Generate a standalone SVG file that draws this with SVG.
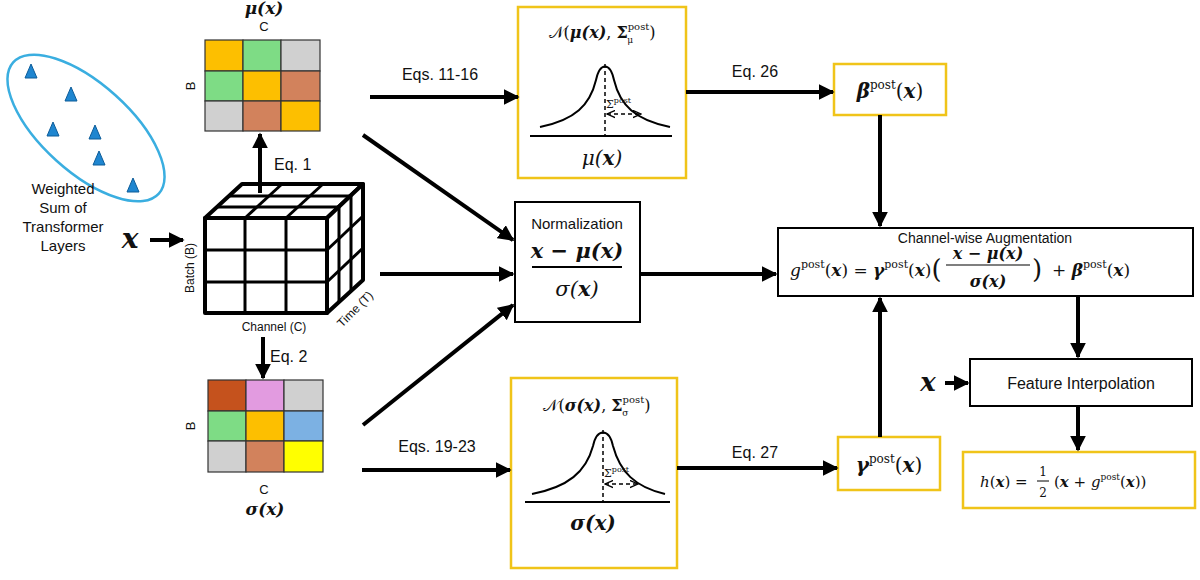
<svg xmlns="http://www.w3.org/2000/svg" width="1200" height="580" viewBox="0 0 1200 580">
<defs>
<marker id="ah" viewBox="0 0 10 10" refX="9" refY="5" markerWidth="4" markerHeight="4" orient="auto"><path d="M0,0 L10,5 L0,10 z" fill="#000"/></marker>
<marker id="sa" viewBox="0 0 10 10" refX="9" refY="5" markerWidth="6" markerHeight="6" orient="auto-start-reverse"><path d="M0,1 L9,5 L0,9" fill="none" stroke="#000" stroke-width="1.5"/></marker>
</defs>
<style>
.s{font-family:"Liberation Sans",Arial,sans-serif;fill:#111}
.m{font-family:"DejaVu Serif","Liberation Serif",serif;fill:#111}
.mb{font-family:"DejaVu Serif","Liberation Serif",serif;font-style:italic;font-weight:bold;fill:#111}
.c{stroke:#000;stroke-width:4;fill:none;marker-end:url(#ah)}
.gold{fill:#fff;stroke:#f0c419;stroke-width:2.5}
.blk{fill:#fff;stroke:#000;stroke-width:2}
.g{stroke:#333;stroke-width:1.2}
.cube{fill:#fff;stroke:#000;stroke-width:4;stroke-linejoin:round}
.tri{fill:#1f86d0;stroke:#0d5c99;stroke-width:1}
</style>
<rect width="1200" height="580" fill="#fff"/>

<g id="source">
<ellipse cx="86" cy="128" rx="98" ry="44" transform="rotate(42 86 128)" fill="none" stroke="#3aaee0" stroke-width="2.5"/>
<polygon class="tri" points="31,64 25,78 37,78"/>
<polygon class="tri" points="71,87 65,101 77,101"/>
<polygon class="tri" points="53,122 47,136 59,136"/>
<polygon class="tri" points="95,125 89,139 101,139"/>
<polygon class="tri" points="99,151 93,165 105,165"/>
<polygon class="tri" points="133,178 127,192 139,192"/>
<text class="s" font-size="15" text-anchor="middle"><tspan x="63" y="194">Weighted</tspan><tspan x="63" y="213">Sum of</tspan><tspan x="63" y="232">Transformer</tspan><tspan x="63" y="251">Layers</tspan></text>
<text class="mb" x="130" y="248" font-size="28" text-anchor="middle">x</text>
</g>

<g id="mu-grid">
<text class="mb" x="264" y="14" font-size="17" text-anchor="middle">μ(x)</text>
<text class="s" x="264" y="31" font-size="13" text-anchor="middle">C</text>
<text class="s" x="195" y="86" font-size="13" text-anchor="middle" transform="rotate(-90 195 86)">B</text>
<rect x="205" y="40" width="38" height="31" fill="#fdbf00" class="g"/>
<rect x="243" y="40" width="38" height="31" fill="#7edc85" class="g"/>
<rect x="281" y="40" width="39" height="31" fill="#d0d0d0" class="g"/>
<rect x="205" y="71" width="38" height="30" fill="#7edc85" class="g"/>
<rect x="243" y="71" width="38" height="30" fill="#fdbf00" class="g"/>
<rect x="281" y="71" width="39" height="30" fill="#d2825c" class="g"/>
<rect x="205" y="101" width="38" height="30" fill="#d0d0d0" class="g"/>
<rect x="243" y="101" width="38" height="30" fill="#d2825c" class="g"/>
<rect x="281" y="101" width="39" height="30" fill="#fdbf00" class="g"/>
</g>

<g id="cube">
<polygon class="cube" points="205,218 242,184 363,184 327,218"/>
<polygon class="cube" points="327,218 363,184 363,280 327,313"/>
<rect class="cube" x="205" y="218" width="122" height="95"/>
<g stroke="#000" stroke-width="3">
<line x1="245" y1="218" x2="245" y2="313"/><line x1="286" y1="218" x2="286" y2="313"/>
<line x1="205" y1="250" x2="327" y2="250"/><line x1="205" y1="282" x2="327" y2="282"/>
<line x1="217" y1="207" x2="339" y2="207"/><line x1="229" y1="196" x2="351" y2="196"/>
<line x1="245" y1="218" x2="282" y2="184"/><line x1="286" y1="218" x2="323" y2="184"/>
<line x1="339" y1="207" x2="339" y2="302"/><line x1="351" y1="196" x2="351" y2="291"/>
<line x1="327" y1="250" x2="363" y2="216"/><line x1="327" y1="282" x2="363" y2="248"/>
</g>
<text class="s" x="194" y="268" font-size="12" text-anchor="middle" transform="rotate(-90 194 268)">Batch (B)</text>
<text class="s" x="274" y="331" font-size="12" text-anchor="middle">Channel (C)</text>
<text class="s" x="358" y="312" font-size="12" text-anchor="middle" transform="rotate(-45 358 312)">Time (T)</text>
</g>

<g id="sigma-grid">
<rect x="208" y="380" width="38" height="31" fill="#c5521d" class="g"/>
<rect x="246" y="380" width="38" height="31" fill="#e29be0" class="g"/>
<rect x="284" y="380" width="39" height="31" fill="#d0d0d0" class="g"/>
<rect x="208" y="411" width="38" height="30" fill="#7edc85" class="g"/>
<rect x="246" y="411" width="38" height="30" fill="#fdbf00" class="g"/>
<rect x="284" y="411" width="39" height="30" fill="#7cb1e3" class="g"/>
<rect x="208" y="441" width="38" height="31" fill="#d0d0d0" class="g"/>
<rect x="246" y="441" width="38" height="31" fill="#d2825c" class="g"/>
<rect x="284" y="441" width="39" height="31" fill="#ffff00" class="g"/>
<text class="s" x="195" y="426" font-size="13" text-anchor="middle" transform="rotate(-90 195 426)">B</text>
<text class="s" x="264" y="494" font-size="13" text-anchor="middle">C</text>
<text class="mb" x="265" y="515" font-size="17" text-anchor="middle">σ(x)</text>
</g>

<g id="gauss-mu">
<rect class="gold" x="518" y="7" width="168" height="171"/>
<text class="m" x="602" y="38" font-size="16" text-anchor="middle">𝒩(<tspan class="mb">μ(x)</tspan>, <tspan font-weight="bold">Σ</tspan><tspan font-size="10" dy="-8">post</tspan><tspan font-size="9" dx="-22" dy="13">μ</tspan><tspan dy="-5" dx="16">)</tspan></text>
<path d="M540,127 C575,120 590,105 596,80 C600,62 610,62 614,80 C620,105 635,120 670,127" fill="none" stroke="#000" stroke-width="2"/>
<line x1="605" y1="64" x2="605" y2="136" stroke="#000" stroke-width="1.5" stroke-dasharray="4,3"/>
<line x1="607" y1="114" x2="641" y2="114" stroke="#000" stroke-width="1.5" stroke-dasharray="4,3" marker-start="url(#sa)" marker-end="url(#sa)"/>
<text class="m" x="606" y="108" font-size="11">Σ<tspan font-size="8" dy="-5">post</tspan></text>
<line x1="530" y1="136" x2="672" y2="136" stroke="#000" stroke-width="2"/>
<text class="m" x="602" y="165" font-size="20" text-anchor="middle" font-style="italic">μ(<tspan font-weight="bold">x</tspan>)</text>
</g>

<g id="normalization">
<rect class="blk" x="515" y="202" width="125" height="120"/>
<text class="s" x="577" y="229" font-size="15" text-anchor="middle">Normalization</text>
<text class="m" x="577" y="258" font-size="21" text-anchor="middle" font-weight="bold" font-style="italic">x − μ(x)</text>
<line x1="532" y1="267" x2="622" y2="267" stroke="#000" stroke-width="2"/>
<text class="m" x="577" y="296" font-size="21" text-anchor="middle" font-style="italic">σ(<tspan font-weight="bold">x</tspan>)</text>
</g>

<g id="gauss-sigma">
<rect class="gold" x="511" y="378" width="166" height="190"/>
<text class="m" x="597" y="411" font-size="16" text-anchor="middle">𝒩(<tspan class="mb">σ(x)</tspan>, <tspan font-weight="bold">Σ</tspan><tspan font-size="10" dy="-8">post</tspan><tspan font-size="9" dx="-22" dy="13">σ</tspan><tspan dy="-5" dx="16">)</tspan></text>
<path d="M532,494 C568,487 586,472 593,446 C597,428 609,428 613,446 C620,472 635,487 665,494" fill="none" stroke="#000" stroke-width="2"/>
<line x1="603" y1="430" x2="603" y2="502" stroke="#000" stroke-width="1.5" stroke-dasharray="4,3"/>
<line x1="605" y1="484" x2="638" y2="484" stroke="#000" stroke-width="1.5" stroke-dasharray="4,3" marker-start="url(#sa)" marker-end="url(#sa)"/>
<text class="m" x="604" y="477" font-size="11">Σ<tspan font-size="8" dy="-5">post</tspan></text>
<line x1="525" y1="502" x2="670" y2="502" stroke="#000" stroke-width="2"/>
<text class="m" x="593" y="530" font-size="20" text-anchor="middle" font-weight="bold" font-style="italic">σ(x)</text>
</g>

<g id="beta">
<rect class="gold" x="834" y="64" width="112" height="51"/>
<text class="m" x="890" y="98" font-size="20" text-anchor="middle"><tspan class="mb">β</tspan><tspan font-size="12" dy="-9">post</tspan><tspan dy="9">(</tspan><tspan class="mb">x</tspan>)</text>
</g>

<g id="gamma">
<rect class="gold" x="838" y="437" width="102" height="53"/>
<text class="m" x="889" y="472" font-size="20" text-anchor="middle"><tspan class="mb">γ</tspan><tspan font-size="12" dy="-9">post</tspan><tspan dy="9">(</tspan><tspan class="mb">x</tspan>)</text>
</g>

<g id="augmentation">
<rect class="blk" x="778" y="228" width="415" height="68"/>
<text class="s" x="985" y="243" font-size="14" text-anchor="middle">Channel-wise Augmentation</text>
<text class="m" font-size="17" x="790" y="276" font-style="italic">g<tspan font-style="normal" font-size="11" dy="-8">post</tspan><tspan font-style="normal" dy="8">(</tspan><tspan class="mb">x</tspan><tspan font-style="normal">) = </tspan><tspan class="mb">γ</tspan><tspan font-style="normal" font-size="11" dy="-8">post</tspan><tspan font-style="normal" dy="8">(</tspan><tspan class="mb">x</tspan><tspan font-style="normal">)</tspan><tspan font-style="normal" font-size="26" dy="2">(</tspan></text>
<text class="mb" x="988" y="259" font-size="16" text-anchor="middle">x − μ(x)</text>
<line x1="946" y1="265" x2="1030" y2="265" stroke="#000" stroke-width="1.2"/>
<text class="mb" x="988" y="287" font-size="16" text-anchor="middle">σ(x)</text>
<text class="m" x="1032" y="278" font-size="26">)</text>
<text class="m" x="1052" y="276" font-size="17">+ <tspan class="mb">β</tspan><tspan font-size="11" dy="-8">post</tspan><tspan dy="8">(</tspan><tspan class="mb">x</tspan>)</text>
</g>

<g id="interpolation">
<rect class="blk" x="970" y="359" width="222" height="47"/>
<text class="s" x="1081" y="389" font-size="16" text-anchor="middle">Feature Interpolation</text>
<text class="mb" x="928" y="391" font-size="26" text-anchor="middle">x</text>
</g>

<g id="output">
<rect class="gold" x="963" y="452" width="232" height="56"/>
<text class="m" x="980" y="487" font-size="15" font-style="italic">h<tspan font-style="normal">(</tspan><tspan class="mb">x</tspan><tspan font-style="normal">) =</tspan></text>
<text class="m" x="1043" y="476" font-size="12" text-anchor="middle">1</text>
<line x1="1037" y1="481" x2="1049" y2="481" stroke="#000" stroke-width="1"/>
<text class="m" x="1043" y="497" font-size="12" text-anchor="middle">2</text>
<text class="m" x="1054" y="487" font-size="15">(<tspan class="mb">x</tspan> + <tspan font-style="italic">g</tspan><tspan font-size="9" dy="-7">post</tspan><tspan dy="7">(</tspan><tspan class="mb">x</tspan>))</text>
</g>

<g id="connectors">
<line class="c" x1="150" y1="240" x2="183" y2="240"/>
<line class="c" x1="260" y1="193" x2="260" y2="134"/>
<text class="s" x="274" y="170" font-size="16">Eq. 1</text>
<line class="c" x1="263" y1="337" x2="263" y2="378"/>
<text class="s" x="270" y="362" font-size="16">Eq. 2</text>
<line class="c" x1="370" y1="97" x2="518" y2="97"/>
<text class="s" x="440" y="80" font-size="16" text-anchor="middle">Eqs. 11-16</text>
<line class="c" x1="363" y1="135" x2="513" y2="240"/>
<line class="c" x1="380" y1="274" x2="513" y2="274"/>
<line class="c" x1="363" y1="425" x2="513" y2="305"/>
<line class="c" x1="362" y1="470" x2="510" y2="470"/>
<text class="s" x="437" y="452" font-size="16" text-anchor="middle">Eqs. 19-23</text>
<line class="c" x1="640" y1="274" x2="776" y2="274"/>
<line class="c" x1="686" y1="92" x2="833" y2="92"/>
<text class="s" x="755" y="77" font-size="16" text-anchor="middle">Eq. 26</text>
<line class="c" x1="880" y1="115" x2="880" y2="226"/>
<line class="c" x1="677" y1="468" x2="837" y2="468"/>
<text class="s" x="755" y="458" font-size="16" text-anchor="middle">Eq. 27</text>
<line class="c" x1="880" y1="437" x2="880" y2="298"/>
<line class="c" x1="1078" y1="296" x2="1078" y2="357"/>
<line class="c" x1="945" y1="383" x2="968" y2="383"/>
<line class="c" x1="1078" y1="406" x2="1078" y2="450"/>
</g>
</svg>
